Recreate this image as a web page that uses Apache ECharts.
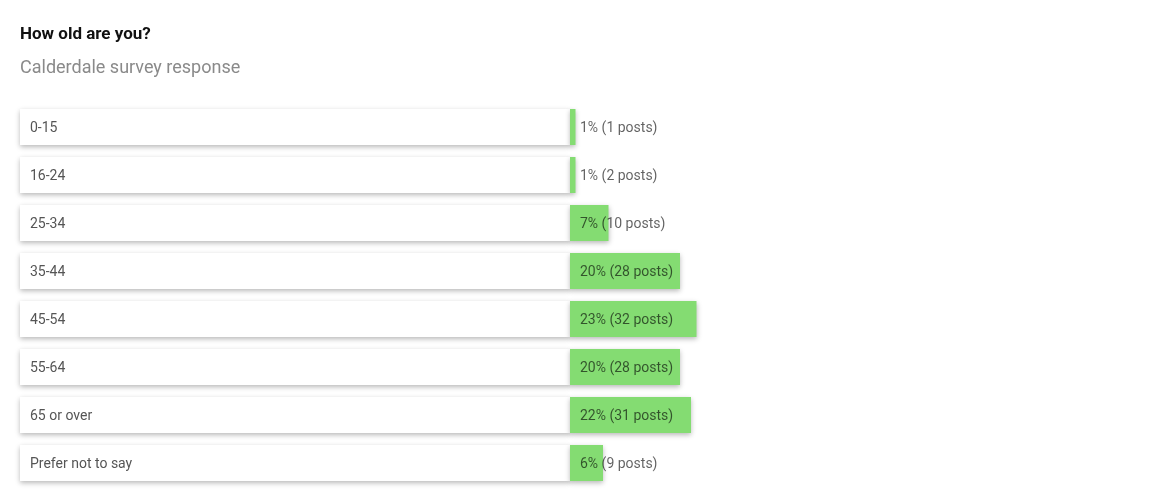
<!DOCTYPE html>
<html>
<head>
<meta charset="utf-8">
<script src="https://cdn.jsdelivr.net/npm/echarts@6/dist/echarts.min.js"></script>
<style>
html,body{margin:0;padding:0;background:#fff;}
#chart{width:1160px;height:496px;}
</style>
</head>
<body>
<div id="chart"></div>
<script>
const categories = ["0-15","16-24","25-34","35-44","45-54","55-64","65 or over","Prefer not to say"];
const percents = [1,1,7,20,23,20,22,6];
const posts = [1,2,10,28,32,28,31,9];
const fullScale = [100,100,100,100,100,100,100,100];

const FONT = 'Roboto,"DejaVu Sans Condensed",sans-serif';
const chart = echarts.init(document.getElementById('chart'));
chart.setOption({
  backgroundColor: '#ffffff',
  animation: false,
  title: {
    text: 'How old are you?',
    subtext: 'Calderdale survey response',
    left: 15,
    top: 21,
    itemGap: 16,
    textStyle: {fontFamily: FONT, fontSize: 17, fontWeight: 'bold', color: '#111'},
    subtextStyle: {fontFamily: FONT, fontSize: 18, color: '#8a8a8a'}
  },
  grid: {left: 20, top: 103, width: 1100, height: 384},
  xAxis: {type: 'value', min: 0, max: 200, show: false},
  yAxis: {type: 'category', data: categories, inverse: true, show: false},
  series: [
    {
      type: 'bar',
      stack: 'row',
      data: fullScale,
      barWidth: 36,
      itemStyle: {color: '#ffffff', shadowBlur: 5, shadowOffsetY: 2, shadowColor: 'rgba(0,0,0,0.28)'},
      label: {
        show: true,
        position: 'insideLeft',
        distance: 10,
        offset: [0, 1],
        fontFamily: FONT,
        fontSize: 14,
        color: '#555',
        formatter: p => categories[p.dataIndex]
      },
      silent: true
    },
    {
      type: 'bar',
      stack: 'row',
      data: percents,
      barWidth: 36,
      itemStyle: {color: '#84dc72', shadowBlur: 5, shadowOffsetY: 2, shadowColor: 'rgba(0,0,0,0.28)'},
      label: {
        show: true,
        position: 'insideLeft',
        distance: 10,
        offset: [0, 1],
        fontFamily: FONT,
        fontSize: 14,
        color: 'rgba(0,0,0,0.62)',
        formatter: p => percents[p.dataIndex] + '% (' + posts[p.dataIndex] + ' posts)'
      }
    }
  ]
});
</script>
</body>
</html>
